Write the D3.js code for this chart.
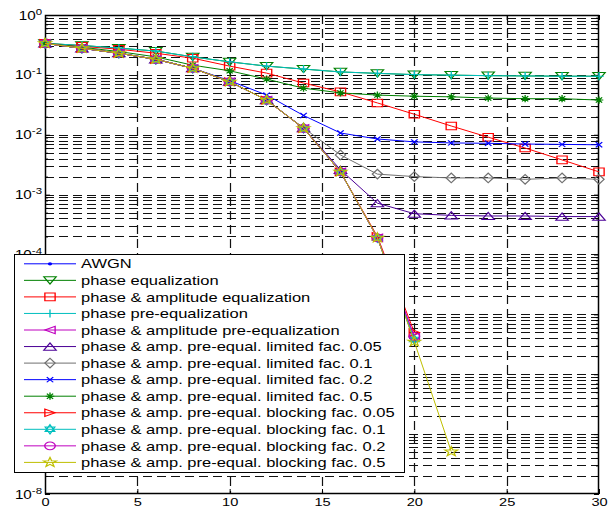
<!DOCTYPE html>
<html><head><meta charset="utf-8">
<script src="https://cdn.jsdelivr.net/npm/d3@7/dist/d3.min.js"></script>
<style>body{margin:0;background:#fff}svg{display:block}</style>
</head><body>
<svg id="c" width="616" height="510"></svg>
<script>
// ---------- data ----------
const snr = [0,2,4,6,8,10,12,14,16,18,20,22,24,26,28,30];
const awgn          = [0.336,0.278,0.23,0.182,0.129,0.077,0.038,0.0128,0.0024,1.9e-4,3.6e-6,null,null,null,null,null];
const phaseEq       = [0.336,0.31,0.28,0.25,0.2,0.165,0.14,0.125,0.112,0.106,0.101,0.099,0.097,0.096,0.095,0.095];
const phaseAmpEq    = [0.336,0.30,0.268,0.23,0.19,0.14,0.107,0.073,0.052,0.034,0.022,0.014,0.0091,0.006,0.0038,0.0024];
const phasePreEq    = [0.336,0.31,0.28,0.25,0.2,0.165,0.14,0.125,0.112,0.106,0.101,0.099,0.097,0.096,0.095,0.095];
const phaseAmpPreEq = [0.336,0.278,0.23,0.182,0.129,0.077,0.038,0.0128,0.0024,1.9e-4,4.2e-6,null,null,null,null,null];
const lim005        = [0.336,0.278,0.23,0.182,0.129,0.077,0.038,0.0129,0.0026,7.2e-4,4.8e-4,4.5e-4,4.4e-4,4.4e-4,4.3e-4,4.3e-4];
const lim01         = [0.336,0.278,0.23,0.182,0.129,0.077,0.038,0.0130,0.0046,0.0022,0.0020,0.0019,0.0019,0.0018,0.0019,0.0018];
const lim02         = [0.336,0.278,0.23,0.182,0.129,0.08,0.046,0.021,0.0107,0.0085,0.0076,0.0073,0.0072,0.0070,0.0069,0.0068];
const lim05         = [0.336,0.29,0.245,0.2,0.145,0.117,0.085,0.06,0.05,0.046,0.044,0.043,0.041,0.040,0.040,0.038];
const blk005        = [0.336,0.278,0.23,0.182,0.129,0.077,0.038,0.0128,0.0024,2.0e-4,5.0e-6,null,null,null,null,null];
const blk01         = [0.336,0.278,0.23,0.182,0.129,0.077,0.038,0.0128,0.0024,1.9e-4,3.8e-6,null,null,null,null,null];
const blk02         = [0.336,0.278,0.23,0.182,0.129,0.077,0.038,0.0128,0.0024,1.9e-4,4.3e-6,null,null,null,null,null];
const blk05         = [0.336,0.278,0.23,0.182,0.129,0.077,0.038,0.0128,0.0024,1.9e-4,3.5e-6,5.1e-8,null,null,null,null];

const seriesNames = ["AWGN","phase equalization","phase & amplitude equalization","phase pre-equalization",
  "phase & amplitude pre-equalization","phase & amp. pre-equal. limited fac. 0.05","phase & amp. pre-equal. limited fac. 0.1",
  "phase & amp. pre-equal. limited fac. 0.2","phase & amp. pre-equal. limited fac. 0.5","phase & amp. pre-equal. blocking fac. 0.05",
  "phase & amp. pre-equal. blocking fac. 0.1","phase & amp. pre-equal. blocking fac. 0.2","phase & amp. pre-equal. blocking fac. 0.5"];
const seriesValues = [awgn,phaseEq,phaseAmpEq,phasePreEq,phaseAmpPreEq,lim005,lim01,lim02,lim05,blk005,blk01,blk02,blk05];
const seriesColors = ["#0000ff","#008000","#ff0000","#00bfbf","#bf00bf","#4b0096","#707070","#0000ff","#008000","#ff0000","#00bfbf","#bf00bf","#bfbf00"];
const seriesMarkers = ["dot","v","s","+","<","^","d","x","*",">","h","o","p"];
const xTicks = [0,5,10,15,20,25,30];
const yDecades = [-8,-7,-6,-5,-4,-3,-2,-1,0];

// ---------- layout ----------
const svg = d3.select("#c");
const L=45,R=599,T=15,B=494, SX=1.27;
const x = d3.scaleLinear([0,30],[L,R]);
const y = d3.scaleLog([1e-8,1],[B,T]);
const font = "'Liberation Sans', Arial, Helvetica, sans-serif";

// grid
const gridG = svg.append("g").attr("stroke","#111").attr("stroke-width",1.2).attr("stroke-dasharray","9,5").attr("fill","none");
const yGrid = [];
for (let d=-8; d<0; d++) for (let m=1; m<=9; m++) { const v=m*Math.pow(10,d); if (d===-8&&m===1) continue; yGrid.push(v); }
gridG.selectAll("line.h").data(yGrid).join("line").attr("class","h")
  .attr("x1",L).attr("x2",R).attr("y1",d=>Math.round(y(d))+0.5).attr("y2",d=>Math.round(y(d))+0.5);
gridG.selectAll("line.v").data(xTicks.slice(1,-1)).join("line").attr("class","v")
  .attr("x1",d=>Math.round(x(d))+0.5).attr("x2",d=>Math.round(x(d))+0.5).attr("y1",T).attr("y2",B);

// axes
const minors = yGrid.filter(v=>Math.abs(Math.log10(v)-Math.round(Math.log10(v)))>1e-9);
const decVals = yDecades.map(d=>Math.pow(10,d));
function styleAxis(g){ g.select(".domain").remove(); g.selectAll("line").attr("stroke","#000"); }
svg.append("g").attr("transform",`translate(0,${B})`).call(d3.axisBottom(x).tickValues(xTicks).tickSize(-5).tickFormat(d=>d))
  .call(styleAxis).call(g=>g.selectAll("text").attr("font-family",font).attr("font-size",11.5).attr("fill","#000")
  .attr("transform",`scale(${SX},1)`).attr("y",4));
svg.append("g").attr("transform",`translate(0,${T})`).call(d3.axisTop(x).tickValues(xTicks).tickSize(-5).tickFormat(""))
  .call(styleAxis);
svg.append("g").attr("transform",`translate(${L},0)`).call(d3.axisLeft(y).tickValues(decVals).tickSize(-5).tickFormat("")).call(styleAxis);
svg.append("g").attr("transform",`translate(${L},0)`).call(d3.axisLeft(y).tickValues(minors).tickSize(-3).tickFormat("")).call(styleAxis);
svg.append("g").attr("transform",`translate(${R},0)`).call(d3.axisRight(y).tickValues(decVals).tickSize(-5).tickFormat("")).call(styleAxis);
svg.append("g").attr("transform",`translate(${R},0)`).call(d3.axisRight(y).tickValues(minors).tickSize(-3).tickFormat("")).call(styleAxis);
svg.append("rect").attr("x",L+0.5).attr("y",T+0.5).attr("width",R-L-1).attr("height",B-T-1)
  .attr("fill","none").attr("stroke","#000").attr("stroke-width",1.5);

// y labels 10^k
const yl = svg.append("g").attr("font-family",font).attr("fill","#000");
yDecades.forEach(d=>{
  const t = yl.append("g").attr("transform",`translate(42,${y(Math.pow(10,d))}) scale(${SX},1)`)
    .append("text").attr("text-anchor","end").attr("font-size",12).attr("dy","0.38em");
  t.append("tspan").text("10");
  t.append("tspan").attr("font-size",9).attr("dy","-0.55em").text(String(d));
});

// markers
function markerPath(type){
  switch(type){
    case "v": return "M-4.6,-3.6L4.6,-3.6L0,3.6Z";
    case "^": return "M-4.6,3.6L4.6,3.6L0,-3.6Z";
    case "<": return "M-3.8,0L3.8,-3.8L3.8,3.8Z";
    case ">": return "M3.8,0L-3.8,-3.8L-3.8,3.8Z";
    case "s": return "M-3.8,-3.8H3.8V3.8H-3.8Z";
    case "d": return "M0,-4.8L3.8,0L0,4.8L-3.8,0Z";
    case "+": return "M-3.5,0H3.5M0,-4V4";
    case "x": return "M-2.4,-2.6L2.4,2.6M-2.4,2.6L2.4,-2.6";
    case "*": return "M-3.2,0H3.2M0,-3.6V3.6M-2.3,-2.6L2.3,2.6M-2.3,2.6L2.3,-2.6";
    case "h": return "M0,-4.6L3.6,2.3L-3.6,2.3ZM0,4.6L3.6,-2.3L-3.6,-2.3Z";
    case "p": { let p=""; for(let i=0;i<10;i++){ const r=i%2?2.0:5.0, a=-Math.PI/2+i*Math.PI/5; p+=(i?"L":"M")+(r*Math.cos(a)).toFixed(2)+","+(r*Math.sin(a)).toFixed(2);} return p+"Z"; }
    default: return null;
  }
}
function drawMarker(g, type, color, cx, cy){
  const m = g.append("g").attr("transform",`translate(${cx},${cy}) scale(1.35,1)`);
  if (type==="dot") m.append("circle").attr("r",1.6).attr("fill",color).attr("stroke","none");
  else if (type==="o") m.append("circle").attr("r",3.9).attr("fill","none").attr("stroke",color).attr("stroke-width",1);
  else m.append("path").attr("d",markerPath(type)).attr("fill","none").attr("stroke",color).attr("stroke-width",1);
}

// clip
svg.append("clipPath").attr("id","clip").append("rect").attr("x",L-8).attr("y",T-8).attr("width",R-L+16).attr("height",B-T+16);
const plot = svg.append("g").attr("clip-path","url(#clip)");
const line = d3.line().defined(d=>d[1]!=null).x(d=>x(d[0])).y(d=>y(d[1]));
seriesValues.forEach((vals,i)=>{
  const pts = snr.map((s,j)=>[s,vals[j]]);
  const g = plot.append("g");
  g.append("path").attr("d",line(pts)).attr("fill","none").attr("stroke",seriesColors[i]).attr("stroke-width",1);
  pts.filter(p=>p[1]!=null).forEach(p=>drawMarker(g,seriesMarkers[i],seriesColors[i],x(p[0]),y(p[1])));
});

// legend
const lg = svg.append("g");
lg.append("rect").attr("x",14.5).attr("y",254.5).attr("width",390).attr("height",218)
  .attr("fill","#fff").attr("stroke","#000").attr("stroke-width",1);
seriesNames.forEach((name,i)=>{
  const cy = 263.8 + i*16.55;
  lg.append("line").attr("x1",24).attr("x2",76).attr("y1",cy).attr("y2",cy).attr("stroke",seriesColors[i]).attr("stroke-width",1);
  drawMarker(lg,seriesMarkers[i],seriesColors[i],50,cy);
  lg.append("g").attr("transform",`translate(81,${cy}) scale(${SX},1)`)
    .append("text").attr("font-family",font).attr("font-size",13).attr("dy","0.36em").attr("fill","#000").text(name);
});
</script>
</body></html>
